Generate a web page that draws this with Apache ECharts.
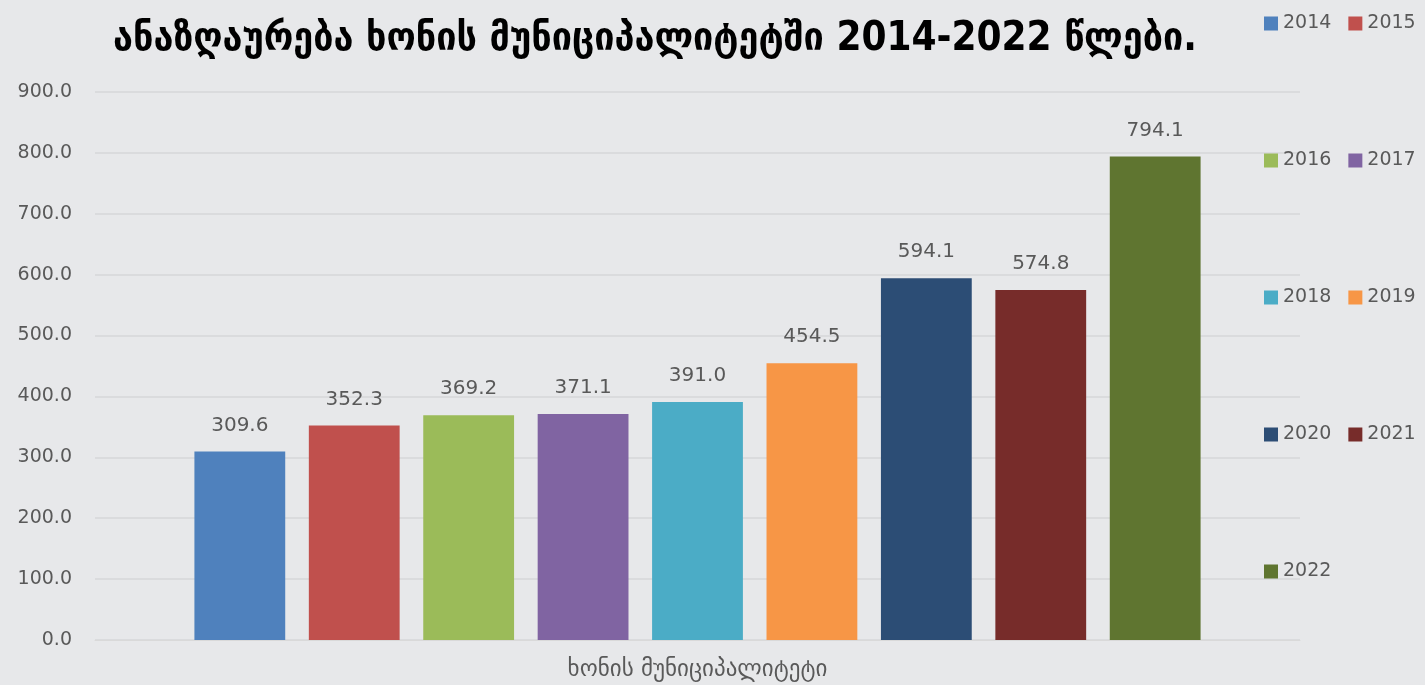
<!DOCTYPE html>
<html>
<head>
<meta charset="utf-8">
<script src="https://cdn.jsdelivr.net/npm/echarts@6/dist/echarts.min.js"></script>
<style>
  html, body { margin: 0; padding: 0; background: #e7e8ea; }
  #chart { width: 1425px; height: 685px; }
</style>
</head>
<body>
<div id="chart"></div>
<script>
// data
var categories = ["ხონის მუნიციპალიტეტი"];
var years = ["2014", "2015", "2016", "2017", "2018", "2019", "2020", "2021", "2022"];
var values = [309.6, 352.3, 369.2, 371.1, 391.0, 454.5, 594.1, 574.8, 794.1];
var colors = ["#4f81bd", "#c0504d", "#9bbb59", "#8064a2", "#4bacc6", "#f79646", "#2c4d75", "#772c2a", "#5f7530"];
var yTicks = { min: 0, max: 900, interval: 100 };

var font = "DejaVu Sans";
var textColor = "#595959";

var series = years.map(function (y, i) {
  return {
    name: y,
    type: "bar",
    data: [values[i]],
    barGap: "26%",
    barCategoryGap: "16.5%",
    itemStyle: { color: colors[i] },
    label: {
      show: true,
      position: "top",
      distance: 16,
      color: textColor,
      fontFamily: font,
      fontSize: 20,
      formatter: function (p) { return p.value.toFixed(1); }
    }
  };
});

// legend: 2 items per row, stacked down the right side
var legendTops = [9, 146, 283, 420, 557];
var legends = legendTops.map(function (t, r) {
  return {
    left: 1259,
    top: t,
    orient: "horizontal",
    icon: "rect",
    itemWidth: 14,
    itemHeight: 14,
    itemGap: 17,
    textStyle: { color: textColor, fontFamily: font, fontSize: 19 },
    data: years.slice(r * 2, r * 2 + 2)
  };
});

var myChart = echarts.init(document.getElementById("chart"));
var option = {
  backgroundColor: "#e7e8ea",
  animation: false,
  title: {
    text: "ანაზღაურება ხონის მუნიციპალიტეტში 2014-2022 წლები.",
    left: 650,
    textAlign: "center",
    top: 15,
    textStyle: { color: "#000", fontFamily: "DejaVu Sans Condensed", fontWeight: "bold", fontSize: 40 }
  },
  legend: legends,
  grid: { left: 95, right: 125, top: 92, bottom: 45, containLabel: false },
  xAxis: {
    type: "category",
    data: categories,
    axisLine: { lineStyle: { color: "#d9d9d9" } },
    axisTick: { show: false },
    axisLabel: { color: textColor, fontFamily: font, fontSize: 23, margin: 19 }
  },
  yAxis: {
    type: "value",
    min: yTicks.min,
    max: yTicks.max,
    interval: yTicks.interval,
    axisLine: { show: false },
    axisTick: { show: false },
    splitLine: { lineStyle: { color: "#d6d7d9", width: 1.5 } },
    axisLabel: {
      color: textColor, fontFamily: font, fontSize: 19, margin: 23,
      formatter: function (v) { return v.toFixed(1); }
    }
  },
  series: series
};
myChart.setOption(option);
</script>
</body>
</html>
